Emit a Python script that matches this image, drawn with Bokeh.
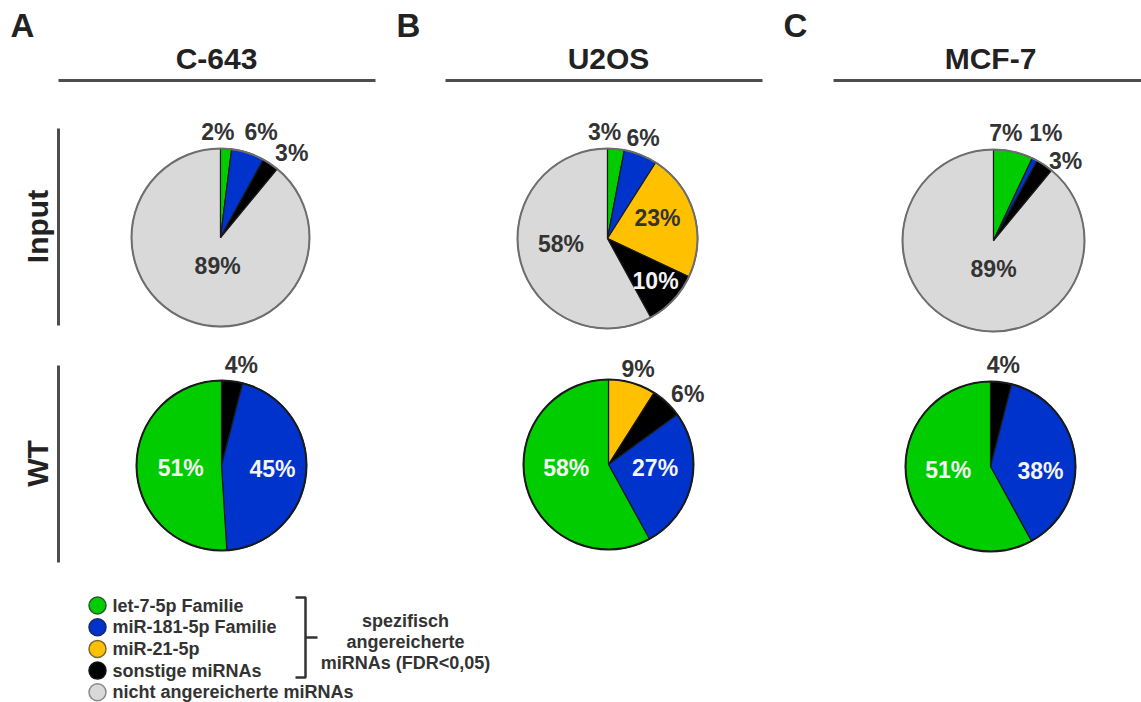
import math
from bokeh.plotting import figure
from bokeh.models import Range1d, ColumnDataSource
from bokeh.embed import file_html
from bokeh.resources import INLINE
from bokeh.core.properties import value

# ---------------- data ----------------
panel_letters = ["A", "B", "C"]
cell_lines = ["C-643", "U2OS", "MCF-7"]
conditions = ["Input", "WT"]

legend_labels = ["let-7-5p Familie", "miR-181-5p Familie", "miR-21-5p",
                 "sonstige miRNAs", "nicht angereicherte miRNAs"]
legend_keys = ["let7", "mir181", "mir21", "other", "none"]
bracket_text = ["spezifisch", "angereicherte", "miRNAs (FDR<0,05)"]

# slices listed clockwise from 12 o'clock; values as drawn (percent); printed labels
c643_input_cats = ["let7", "mir181", "other", "none"]
c643_input_vals = [2, 6, 3, 89]
c643_input_labels = ["2%", "6%", "3%", "89%"]

u2os_input_cats = ["let7", "mir181", "mir21", "other", "none"]
u2os_input_vals = [3, 6, 23, 10, 58]
u2os_input_labels = ["3%", "6%", "23%", "10%", "58%"]

mcf7_input_cats = ["let7", "mir181", "other", "none"]
mcf7_input_vals = [7, 1, 3, 89]
mcf7_input_labels = ["7%", "1%", "3%", "89%"]

c643_wt_cats = ["other", "mir181", "let7"]
c643_wt_vals = [4, 45, 51]
c643_wt_labels = ["4%", "45%", "51%"]

u2os_wt_cats = ["mir21", "other", "mir181", "let7"]
u2os_wt_vals = [9, 6, 27, 58]
u2os_wt_labels = ["9%", "6%", "27%", "58%"]

mcf7_wt_cats = ["other", "mir181", "let7"]
mcf7_wt_vals = [4, 38, 58]
mcf7_wt_labels = ["4%", "38%", "51%"]

# ---------------- styles / layout ----------------
colors = {"let7": "#00CC00", "mir181": "#0033CC", "mir21": "#FFC000",
          "other": "#000000", "none": "#D9D9D9"}
legend_line = {"let7": "#2a5a2a", "mir181": "#1a2a66", "mir21": "#7a6a30",
               "other": "#111111", "none": "#8a8a8a"}
DARK = "#333333"
FONT = value("Liberation Sans")

W, H = 1141, 702


def Y(ry):
    return H - ry


p = figure(width=W, height=H, output_backend="svg", toolbar_location=None,
           x_range=Range1d(0, W), y_range=Range1d(0, H),
           min_border=0, outline_line_color=None)
p.axis.visible = False
p.grid.visible = False
p.background_fill_color = "white"
p.border_fill_color = "white"

pies = [
    # (cats, vals, labels, center_x, center_y, radius, outline, label placement [(f, dtheta)])
    (c643_input_cats, c643_input_vals, c643_input_labels, 220, 237, 89, "#6e6e6e",
     [(1.19, -5), (1.27, 3), (1.24, 6), (0.32, -14)]),
    (u2os_input_cats, u2os_input_vals, u2os_input_labels, 607, 238, 90, "#6e6e6e",
     [(1.18, -7), (1.18, -2), (0.6, -6), (0.71, -2), (0.52, 8)]),
    (mcf7_input_cats, mcf7_input_vals, mcf7_input_labels, 993, 240, 91, "#6e6e6e",
     [(1.19, -6), (1.31, -1), (1.18, 8), (0.31, -20)]),
    (c643_wt_cats, c643_wt_vals, c643_wt_labels, 221, 465, 85, "#1a1a1a",
     [(1.2, 4), (0.6, -2), (0.48, -2)]),
    (u2os_wt_cats, u2os_wt_vals, u2os_wt_labels, 608, 464, 85, "#1a1a1a",
     [(1.18, 1), (1.25, 5), (0.55, -8), (0.5, 9)]),
    (mcf7_wt_cats, mcf7_wt_vals, mcf7_wt_labels, 990, 466, 85, "#1a1a1a",
     [(1.2, 0), (0.59, 12), (0.5, 9)]),
]

for cats, vals, labels, cx, cy, r, outline, place in pies:
    total = float(sum(vals))
    starts, ends, fills, lines = [], [], [], []
    lx, ly, ltxt, lcol = [], [], [], []
    acc = 0.0
    for cat, v, lab, (f, dth) in zip(cats, vals, labels, place):
        t1 = acc / total * 360.0
        t2 = (acc + v) / total * 360.0
        acc += v
        starts.append(math.radians(90 - t2))
        ends.append(math.radians(90 - t1))
        fills.append(colors[cat])
        lines.append(outline if cat == "none" else "#1a1a1a")
        mid = math.radians((t1 + t2) / 2 + dth)
        lx.append(cx + f * r * math.sin(mid))
        ly.append(Y(cy) + f * r * math.cos(mid))
        ltxt.append(lab)
        lcol.append("#f4f4f4" if (f < 1 and cat in ("let7", "mir181", "other")) else DARK)
    order = sorted(range(len(cats)), key=lambda i: 0 if cats[i] == "none" else 1)
    src = ColumnDataSource(dict(
        start=[starts[i] for i in order], end=[ends[i] for i in order],
        fill=[fills[i] for i in order], line=[lines[i] for i in order]))
    p.wedge(x=cx, y=Y(cy), radius=r, start_angle="start", end_angle="end",
            direction="anticlock", fill_color="fill", line_color="line",
            line_width=1.2, source=src)
    p.circle(x=cx, y=Y(cy), radius=r, fill_color=None, line_color=outline, line_width=2)
    p.text(x=lx, y=ly, text=ltxt, text_color=lcol, text_font=FONT,
           text_font_style="bold", text_font_size="23px",
           text_align="center", text_baseline="middle")

# panel letters and titles
p.text(x=[10, 396, 783], y=[Y(25)] * 3, text=panel_letters, text_font=FONT,
       text_font_style="bold", text_font_size="33px", text_color="#222222",
       text_align="left", text_baseline="middle")
p.text(x=[216, 608, 990], y=[Y(58)] * 3, text=cell_lines, text_font=FONT,
       text_font_style="bold", text_font_size="30px", text_color="#222222",
       text_align="center", text_baseline="middle")
p.segment(x0=[58, 445, 833], y0=[Y(80)] * 3, x1=[375, 762, 1141], y1=[Y(80)] * 3,
          line_color="#4d4d4d", line_width=3)

# row labels
p.text(x=[37, 37], y=[Y(226), Y(463)], text=conditions, angle=math.pi / 2,
       text_font=FONT, text_font_style="bold", text_font_size="30px",
       text_color="#222222", text_align="center", text_baseline="middle")
p.segment(x0=[58, 58], y0=[Y(128), Y(365)], x1=[58, 58], y1=[Y(325), Y(562)],
          line_color="#4d4d4d", line_width=3)

# legend
leg_y = [Y(605 + i * 21.7) for i in range(len(legend_labels))]
p.scatter(x=[97] * len(legend_keys), y=leg_y, size=17,
          fill_color=[colors[k] for k in legend_keys],
          line_color=[legend_line[k] for k in legend_keys], line_width=1.5)
p.text(x=[112] * len(legend_labels), y=leg_y, text=legend_labels, text_font=FONT,
       text_font_style="bold", text_font_size="18px", text_color=DARK,
       text_align="left", text_baseline="middle")

# bracket
p.line(x=[295, 305, 305, 295], y=[Y(597), Y(597), Y(677), Y(677)],
       line_color=DARK, line_width=2.5)
p.line(x=[305, 317], y=[Y(637), Y(637)], line_color=DARK, line_width=2.5)
p.text(x=[405] * 3, y=[Y(620), Y(641), Y(662)], text=bracket_text, text_font=FONT,
       text_font_style="bold", text_font_size="18px", text_color=DARK,
       text_align="center", text_baseline="middle")

open("out.html", "w").write(file_html(p, INLINE))
